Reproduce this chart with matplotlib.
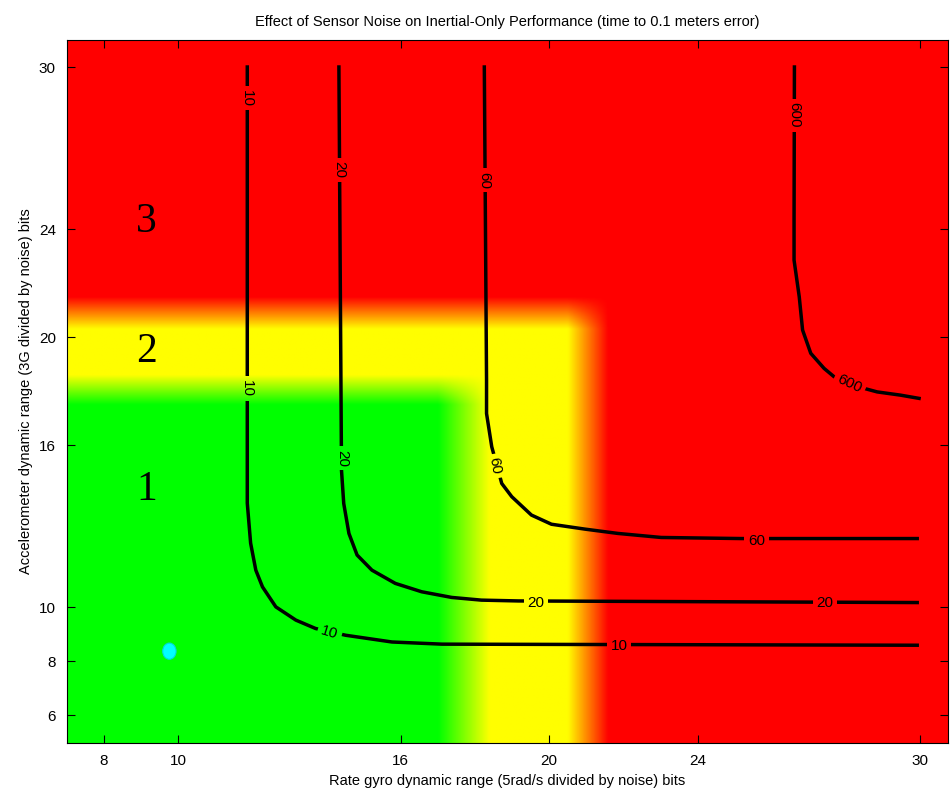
import numpy as np
import matplotlib
matplotlib.use("Agg")
import matplotlib.pyplot as plt
from matplotlib.colors import LinearSegmentedColormap
from matplotlib.patches import Ellipse

# contour lines: x = gyro bits, y = accelerometer bits
c10_x = [11.86, 11.86, 11.86, 11.95, 12.09, 12.27, 12.63, 13.17, 13.70, 14.51, 15.76, 17.11, 29.92]
c10_y = [30.0, 15.44, 13.85, 12.37, 11.37, 10.75, 10.01, 9.52, 9.21, 8.96, 8.71, 8.63, 8.59]

c20_x = [14.33, 14.40, 14.46, 14.60, 14.82, 15.22, 15.85, 16.56, 17.37, 18.17, 19.17, 29.92]
c20_y = [30.0, 15.07, 13.84, 12.73, 11.93, 11.37, 10.88, 10.57, 10.36, 10.26, 10.23, 10.17]

c60_x = [18.25, 18.31, 18.31, 18.45, 18.72, 18.99, 19.52, 20.06, 20.96, 21.85, 23.02, 25.17, 29.92]
c60_y = [30.0, 18.41, 17.17, 15.94, 14.58, 14.09, 13.41, 13.07, 12.89, 12.73, 12.58, 12.54, 12.54]

c600_x = [26.61, 26.60, 26.60, 26.74, 26.83, 27.05, 27.41, 27.68, 28.49, 28.84, 29.47, 29.97]
c600_y = [30.0, 24.33, 22.85, 21.49, 20.26, 19.40, 18.84, 18.53, 18.10, 17.97, 17.85, 17.73]

# contour labels: text, x, y, angle
lab_text = ["10", "10", "10", "10", "20", "20", "20", "20", "60", "60", "60", "600", "600"]
lab_x = [11.86, 11.86, 14.08, 21.88, 14.33, 14.43, 19.64, 27.43, 18.25, 18.53, 25.59, 26.61, 28.10]
lab_y = [28.85, 18.10, 9.05, 8.56, 26.19, 15.52, 10.14, 10.14, 25.81, 15.22, 12.46, 28.22, 18.28]
lab_rot = [-90, -90, -17, 0, -90, -90, 0, 0, -90, -80, 0, -90, -25]

# colour zones (start/end of green->yellow and yellow->red blends)
gyro_edges = [17.0, 18.4, 20.5, 21.6]
accel_edges = [17.5, 18.6, 20.3, 21.5]

zone_names = ["1", "2", "3"]
zone_x = 9.14
zone_y = [14.33, 19.44, 24.26]

point_x = [9.76]
point_y = [8.37]

xticks = [8, 10, 16, 20, 24, 30]
yticks = [6, 8, 10, 16, 20, 24, 30]
xlim = (7, 30.75)
ylim = (4.97, 31.0)


def step(v, a, b):
    return np.clip((v - a) / (b - a), 0, 1)


gx = np.linspace(xlim[0], xlim[1], 600)
gy = np.linspace(ylim[0], ylim[1], 600)
GX, GY = np.meshgrid(gx, gy)
not_green = 1 - (1 - step(GX, *gyro_edges[:2])) * (1 - step(GY, *accel_edges[:2]))
red = 1 - (1 - step(GX, *gyro_edges[2:])) * (1 - step(GY, *accel_edges[2:]))
field = not_green + red
cmap = LinearSegmentedColormap.from_list("gyr", [(0, 1, 0), (1, 1, 0), (1, 0, 0)])

plt.rcParams["font.family"] = ["Liberation Sans", "DejaVu Sans"]

fig = plt.figure(figsize=(9.52, 7.94), dpi=100)
ax = fig.add_axes([67 / 952, 51 / 794, 881 / 952, 703 / 794])

img_kw = dict(extent=(xlim[0], xlim[1], ylim[0], ylim[1]), origin="lower", cmap=cmap,
              vmin=0, vmax=2, aspect="auto", interpolation="bilinear")
ax.imshow(field, zorder=0, **img_kw)

for xs, ys in [(c10_x, c10_y), (c20_x, c20_y), (c60_x, c60_y), (c600_x, c600_y)]:
    ax.plot(xs, ys, "k-", lw=2.5, zorder=2, solid_joinstyle="round")

texts = []
for s, x, y, r in zip(lab_text, lab_x, lab_y, lab_rot):
    t = ax.text(x, y, s, rotation=r, rotation_mode="anchor", ha="center", va="center",
                fontsize=11, zorder=4,
                bbox=dict(boxstyle="square,pad=0.25", fc="none", ec="none"))
    texts.append(t)

for s, y in zip(zone_names, zone_y):
    ax.text(zone_x, y, s, fontsize=30, family="Liberation Serif", ha="center", va="center", zorder=4)

for px, py in zip(point_x, point_y):
    ax.add_patch(Ellipse((px, py), 0.36, 0.6, fc=(0, 1, 1), ec=(0, 0.85, 0.85), lw=0.8, zorder=3))

ax.set_xlim(*xlim)
ax.set_ylim(*ylim)
ax.set_xticks(xticks)
ax.set_yticks(yticks)
ax.tick_params(direction="in", top=True, right=True, length=6, width=0.8, labelsize=11, pad=8)
ax.set_title("Effect of Sensor Noise on Inertial-Only Performance (time to 0.1 meters error)",
             fontsize=10.5, pad=10)
ax.set_xlabel("Rate gyro dynamic range (5rad/s divided by noise) bits", fontsize=10.5, labelpad=4)
ax.set_ylabel("Accelerometer dynamic range (3G divided by noise) bits", fontsize=10.5, labelpad=4)

# open gaps in the lines under the labels, like clabel does
fig.canvas.draw()
for t in texts:
    im = ax.imshow(field, zorder=3, **img_kw)
    im.set_clip_path(t.get_bbox_patch())

fig.savefig("out.png", dpi=100)
